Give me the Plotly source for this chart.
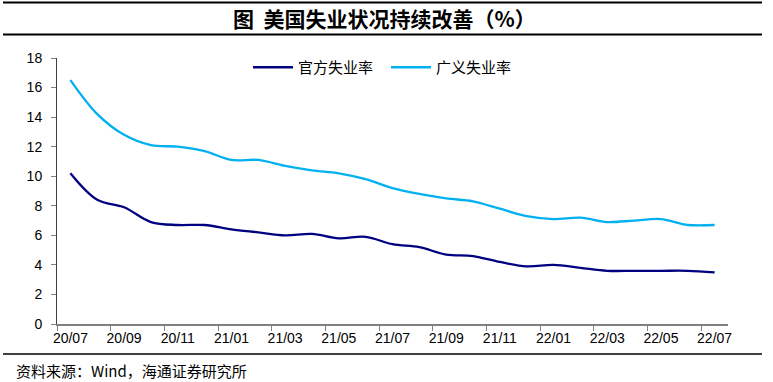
import plotly.graph_objects as go

months = ["20/07", "20/08", "20/09", "20/10", "20/11", "20/12",
          "21/01", "21/02", "21/03", "21/04", "21/05", "21/06",
          "21/07", "21/08", "21/09", "21/10", "21/11", "21/12",
          "22/01", "22/02", "22/03", "22/04", "22/05", "22/06", "22/07"]
official_rate = [10.2, 8.4, 7.9, 6.9, 6.7, 6.7, 6.4, 6.2, 6.0, 6.1, 5.8, 5.9,
                 5.4, 5.2, 4.7, 4.6, 4.2, 3.9, 4.0, 3.8, 3.6, 3.6, 3.6, 3.6, 3.5]
broad_rate = [16.5, 14.2, 12.8, 12.1, 12.0, 11.7, 11.1, 11.1, 10.7, 10.4, 10.2, 9.8,
              9.2, 8.8, 8.5, 8.3, 7.8, 7.3, 7.1, 7.2, 6.9, 7.0, 7.1, 6.7, 6.7]
y_ticks = [0, 2, 4, 6, 8, 10, 12, 14, 16, 18]

series_names = ["官方失业率", "广义失业率"]
title_text = "图  美国失业状况持续改善（%）"
source_text = "资料来源：Wind，海通证券研究所"

W, H = 773, 382
L, R, T, B = 57, 45, 58, 58
pw, ph = W - L - R, H - T - B

def px(xp):
    return (xp - L) / pw

def py(yp):
    return (H - B - yp) / ph

xs = list(range(len(months)))
CJK = "Noto Sans CJK SC"
NUM = "Liberation Sans, Arial"

fig = go.Figure()
fig.add_trace(go.Scatter(x=xs, y=official_rate, name=series_names[0], mode="lines",
                         line=dict(color="#000080", width=2.3, shape="spline", smoothing=1)))
fig.add_trace(go.Scatter(x=xs, y=broad_rate, name=series_names[1], mode="lines",
                         line=dict(color="#00B0F0", width=2.3, shape="spline", smoothing=1)))

fig.update_layout(
    width=W, height=H,
    margin=dict(l=L, r=R, t=T, b=B),
    paper_bgcolor="white", plot_bgcolor="white",
    showlegend=True,
    legend=dict(orientation="h", x=px(248), y=py(51), xanchor="left", yanchor="top",
                font=dict(family=CJK, size=15, color="black"),
                bgcolor="rgba(0,0,0,0)", itemwidth=40, tracegroupgap=0,
                entrywidth=83, entrywidthmode="pixels"),
    xaxis=dict(range=[-0.5, len(months) - 0.5], showgrid=False, zeroline=False,
               showline=True, linecolor="#808080", linewidth=2,
               tickmode="array", tickvals=xs[::2], ticktext=months[::2], ticks="",
               tickfont=dict(family=NUM, size=14, color="black"),
               minor=dict(tickmode="array", tickvals=[v - 0.5 for v in xs[::2]],
                          ticks="outside", ticklen=5, tickcolor="#808080", tickwidth=1,
                          showgrid=False)),
    yaxis=dict(range=[0, 18], showgrid=False, zeroline=False,
               showline=True, linecolor="#404040", linewidth=1,
               tickmode="array", tickvals=y_ticks, ticks="outside", ticklen=5,
               tickcolor="#808080", tickwidth=1, ticklabelstandoff=6,
               tickfont=dict(family=NUM, size=14, color="black")),
    shapes=[
        dict(type="line", xref="paper", yref="paper", x0=px(3), x1=px(762), y0=py(2.5), y1=py(2.5),
             line=dict(color="black", width=2)),
        dict(type="line", xref="paper", yref="paper", x0=px(3), x1=px(762), y0=py(34.5), y1=py(34.5),
             line=dict(color="black", width=2)),
        dict(type="line", xref="paper", yref="paper", x0=px(3), x1=px(762), y0=py(354), y1=py(354),
             line=dict(color="black", width=1.5)),
    ],
    annotations=[
        dict(text="<b>" + title_text + "</b>", xref="paper", yref="paper",
             x=px(384), y=py(18.5), xanchor="center", yanchor="middle", showarrow=False,
             font=dict(family=CJK, size=21, color="black")),
        dict(text=source_text, xref="paper", yref="paper",
             x=px(14), y=py(370), xanchor="left", yanchor="middle", showarrow=False,
             font=dict(family=CJK, size=15, color="black")),
    ],
)

fig.write_html(
    "out.html",
    config={"displayModeBar": False},
    post_script=("document.documentElement.style.margin='0';"
                 "document.body.style.margin='0';document.body.style.padding='0';"
                 "document.body.style.overflow='hidden';"),
)
